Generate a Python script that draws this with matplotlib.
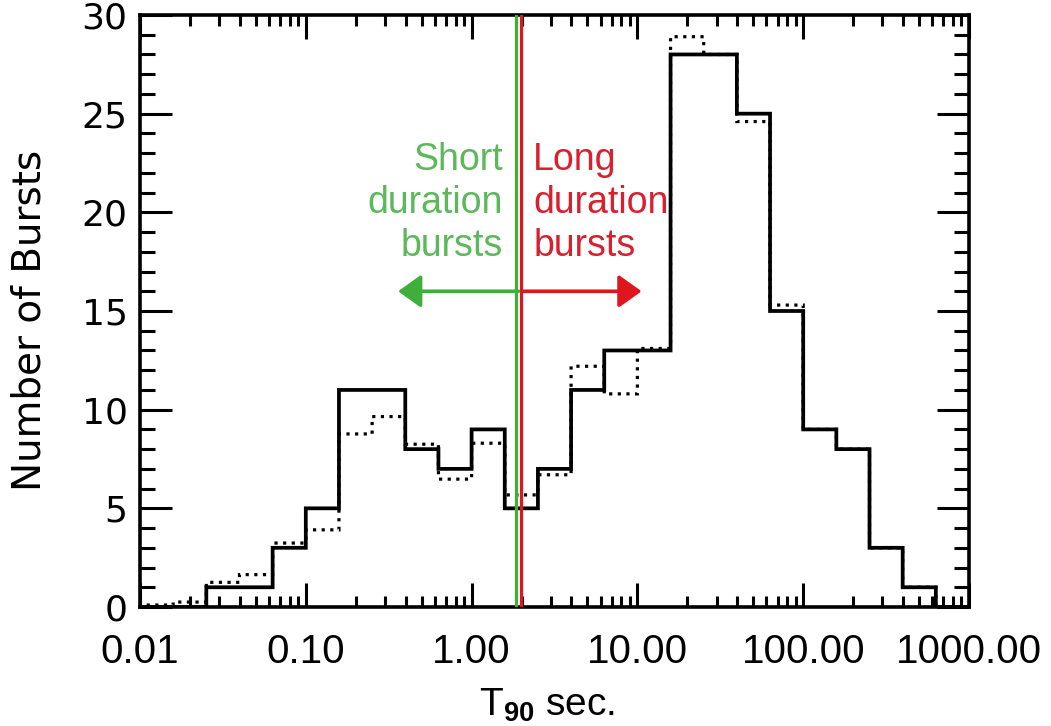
import numpy as np
import matplotlib
matplotlib.use("Agg")
import matplotlib.pyplot as plt
from matplotlib.lines import Line2D
from matplotlib.ticker import FixedLocator, FixedFormatter, LogLocator, MultipleLocator, NullFormatter
from matplotlib.transforms import ScaledTranslation

plt.rcParams['font.family'] = ['Liberation Sans', 'DejaVu Sans']
plt.rcParams['mathtext.fontset'] = 'custom'
plt.rcParams['mathtext.rm'] = 'Liberation Sans'
plt.rcParams['mathtext.bf'] = 'Liberation Sans:bold'

# log10(T90) bin edges, 0.2 dex wide
log_edges = [-2.0, -1.8, -1.6, -1.4, -1.2, -1.0, -0.8, -0.6, -0.4, -0.2, 0.0,
             0.2, 0.4, 0.6, 0.8, 1.0, 1.2, 1.4, 1.6, 1.8, 2.0,
             2.2, 2.4, 2.6, 2.8, 3.0]

# observed burst counts per bin (solid)
counts = [0, 0, 1, 1, 3, 5, 11, 11, 8, 7, 9, 5, 7, 11, 13, 13,
          28, 28, 25, 15, 9, 8, 3, 1, 0]

# comparison distribution (dotted)
counts_alt = [0.1, 0.25, 1.25, 1.64, 3.24, 3.91, 8.77, 9.65, 8.25, 6.48, 8.3,
              5.68, 6.7, 12.2, 10.8, 13.1, 28.9, 28.0, 24.6, 15.3, 9, 8, 3, 1, 0]

xtick_values = [0.01, 0.1, 1, 10, 100, 1000]
xtick_labels = ["0.01", "0.10", "1.00", "10.00", "100.00", "1000.00"]

t_split = 1.92          # dividing duration between the two classes, s
arrow_y = 16.0
short_arrow_end = 0.36
long_arrow_end = 10.6

green_line = '#3fae3a'
green_text = '#5cb85a'
red_line = '#e0161f'
red_text = '#d8202e'

edges = 10.0 ** np.array(log_edges)

fig = plt.figure(figsize=(10.51, 7.26), dpi=100)
ax = fig.add_axes([140 / 1051, 1 - 607 / 726, 829 / 1051, 592 / 726])

ax.stairs(counts_alt, edges, color='black', lw=2.3, linestyle=(0, (1, 1.7)),
          zorder=2, snap=False)
ax.stairs(counts, edges, color='black', lw=2.7, zorder=3, snap=False)

ax.set_xscale('log')
ax.set_xlim(0.01, 1000)
ax.set_ylim(0, 30)

ax.xaxis.set_major_locator(FixedLocator(xtick_values))
ax.xaxis.set_major_formatter(FixedFormatter(xtick_labels))
ax.xaxis.set_minor_locator(LogLocator(base=10, subs=np.arange(2, 10)))
ax.xaxis.set_minor_formatter(NullFormatter())
ax.yaxis.set_major_locator(MultipleLocator(5))
ax.yaxis.set_minor_locator(MultipleLocator(1))

for s in ax.spines.values():
    s.set_linewidth(2.6)

ax.tick_params(axis='both', which='both', direction='in', top=True, right=True,
               width=2.2, colors='black')
ax.tick_params(axis='x', which='major', length=17, pad=19, labelsize=29)
ax.tick_params(axis='x', which='minor', length=8)
ax.tick_params(axis='y', which='major', length=23, pad=9, labelsize=26)
ax.tick_params(axis='y', which='minor', length=11)
for lab in ax.get_yticklabels():
    lab.set_fontfamily('DejaVu Sans')

# class boundary, drawn as a green/red pair of lines
off = 1.6 / 72
for color, dx in ((green_line, -off), (red_line, off)):
    ln = Line2D([t_split, t_split], [0, 1], color=color, lw=2.3, zorder=4,
                transform=ax.get_xaxis_transform()
                + ScaledTranslation(dx, 0, fig.dpi_scale_trans))
    ax.add_line(ln)

arrow_style = '-|>,head_length=0.7,head_width=0.5'
ax.annotate('', xy=(short_arrow_end, arrow_y), xytext=(t_split, arrow_y),
            arrowprops=dict(arrowstyle=arrow_style, color=green_line, lw=2.6,
                            shrinkA=0, shrinkB=0, mutation_scale=20), zorder=5)
ax.annotate('', xy=(long_arrow_end, arrow_y), xytext=(t_split * 1.05, arrow_y),
            arrowprops=dict(arrowstyle=arrow_style, color=red_line, lw=2.6,
                            shrinkA=0, shrinkB=0, mutation_scale=20), zorder=5)

ax.text(1.55, 23.55, "Short\nduration\nbursts", color=green_text, fontsize=27,
        ha='right', va='top', linespacing=1.24, multialignment='right')
ax.text(2.35, 23.55, "Long\nduration\nbursts", color=red_text, fontsize=27,
        ha='left', va='top', linespacing=1.24, multialignment='left')

fig.text(30 / 1051, 1 - 320 / 726, "Number of Bursts", rotation=90,
         ha='center', va='center', fontsize=28, family='DejaVu Sans')
fig.text(547 / 1051, 1 - 716 / 726, r"T$_{\mathbf{90}}$ sec.", ha='center',
         va='baseline', fontsize=28)

fig.savefig('out.png', dpi=100)
